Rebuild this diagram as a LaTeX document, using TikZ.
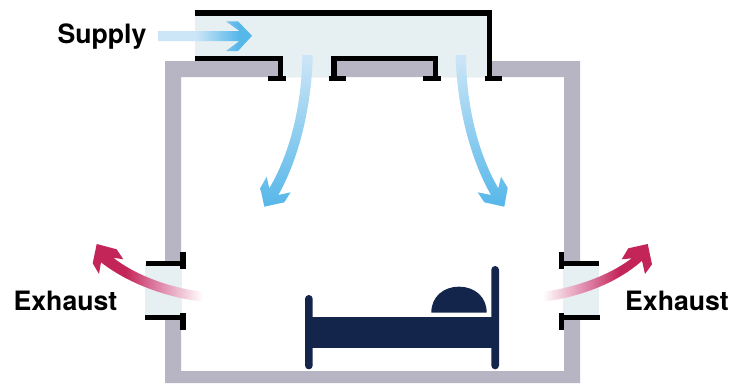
\documentclass[tikz,border=0pt]{standalone}
\usepackage{fontspec}
\setmainfont{TeX Gyre Heros}
\usepackage{xcolor}
\usepackage{tikz}
\definecolor{wallgray}{HTML}{B7B5C4}
\definecolor{ductfill}{HTML}{E6EFF1}
\definecolor{airblue}{HTML}{56B7E9}
\definecolor{airpale}{HTML}{CDE6F7}
\definecolor{exhred}{HTML}{C42558}
\definecolor{exhmid}{HTML}{D9739A}
\definecolor{bednavy}{HTML}{14254C}
\pgfdeclarehorizontalshading{exhaustfade}{100bp}{color(0bp)=(exhred); color(40bp)=(exhred);
  color(52bp)=(exhmid); color(75bp)=(white); color(100bp)=(white)}
\pgfdeclarehorizontalshading{supplyfade}{100bp}{color(0bp)=(airpale); color(25bp)=(airpale);
  color(45bp)=(airpale); color(68bp)=(airblue); color(100bp)=(airblue)}

\begin{document}
\begin{tikzpicture}[
  x=0.75pt, y=-0.75pt,
  tag/.style={anchor=base, font=\fontsize{20}{22}\selectfont\bfseries, text=black, inner sep=0pt},
  lip/.style={draw=black, line width=3.9pt},
  supplyair/.style={shading=supplyfade},
  downair/.style={top color=airpale, bottom color=airblue},
  outleft/.style={shading=exhaustfade},
  outright/.style={shading=exhaustfade, shading angle=180},
  bedpart/.style={fill=bednavy}
]
  \useasboundingbox (0,0) rectangle (746,383);

  % Room
  \fill[wallgray, even odd rule] (165,61) rectangle (580,383) (181,77) rectangle (564,371);

  % Supply duct
  \fill[ductfill] (195,15) -- (488,15) -- (488,77) -- (436,77) -- (436,58) -- (333,58)
    -- (333,77) -- (280,77) -- (280,58) -- (195,58) -- cycle;
  \draw[lip] (195,13) -- (489.5,13) -- (489.5,78.5);
  \draw[lip] (195,58.6) -- (280.2,58.6) -- (280.2,78.5);
  \draw[lip] (333.9,78.5) -- (333.9,58.6) -- (435.4,58.6) -- (435.4,78.5);
  \foreach \xa/\xb in {268/285.7, 328.7/346.3, 423/440.7, 484.5/502}
    \draw[lip] (\xa,78.5) -- (\xb,78.5);

  % Exhaust openings
  \fill[ductfill] (145,263) rectangle (181.5,317);
  \fill[ductfill] (563,263) rectangle (599,317);
  \draw[lip] (146,263.4) -- (183,263.4);
  \draw[lip] (145,317.6) -- (183,317.6);
  \draw[lip] (183,251.7) -- (183,269);
  \draw[lip] (183,312.7) -- (183,329.7);
  \draw[lip] (599,263.4) -- (561.5,263.4);
  \draw[lip] (600,317.6) -- (561.5,317.6);
  \draw[lip] (561.5,251.7) -- (561.5,269);
  \draw[lip] (561.5,312.7) -- (561.5,329.7);

  % Air arrows
  \shade[supplyair] (158,31) -- (239.5,31) -- (226,21.3) -- (238,21.3) -- (252,35.8) -- (238,51)
    -- (226,51) -- (239.5,41) -- (158,41) -- cycle;
  \shade[downair] (302.3,55) .. controls (302,100) and (292,150) .. (269.3,188.3)
    -- (266.7,176.7) -- (260.3,188) -- (264.3,206.7) -- (284.3,202.3) -- (290.7,192.3) -- (278.3,195)
    .. controls (301,155) and (312,100) .. (312.7,55) -- cycle;
  \shade[downair] (466,55) .. controls (466,100) and (476,150) .. (498.3,188.3)
    -- (501,176.7) -- (507.7,187.7) -- (504.3,206.7) -- (484.3,202.3) -- (477.7,192.3) -- (491,195)
    .. controls (468,155) and (456.5,100) .. (455.7,55) -- cycle;
  \shade[outleft] (202.7,301.7) .. controls (170,298) and (130,285) .. (101,262.3)
    -- (99,274) -- (92.7,263.3) -- (96.7,244) -- (116.7,249.3) -- (123.3,259.3) -- (113.3,257.7)
    .. controls (135,275) and (170,288) .. (202.7,291.7) -- cycle;
  \shade[outright] (542.7,291.7) .. controls (575,288) and (610,275) .. (631.7,258.3)
    -- (621.7,259.3) -- (628.3,248.3) -- (647.7,244) -- (652,264.3) -- (645,274) -- (642,260.7)
    .. controls (615,285) and (575,298) .. (542.7,301.7) -- cycle;

  % Bed
  \fill[bedpart, rounded corners=2.85pt] (305,295) rectangle (312.7,369.3);
  \fill[bedpart, rounded corners=2.85pt] (491.3,266) rectangle (499,369.3);
  \fill[bedpart] (310,316.7) rectangle (494,347.7);
  \fill[bedpart] (431.3,312.7) .. controls (431.3,297) and (443,286.7) .. (459,286.7)
    .. controls (475,286.7) and (486.7,297) .. (486.7,312.7) -- cycle;

  \node[tag] (supply) at (102,43.5) {Supply};
  \node[tag] (exhaustl) at (65.5,310.5) {Exhaust};
  \node[tag] (exhaustr) at (677,310.5) {Exhaust};
\end{tikzpicture}
\end{document}
